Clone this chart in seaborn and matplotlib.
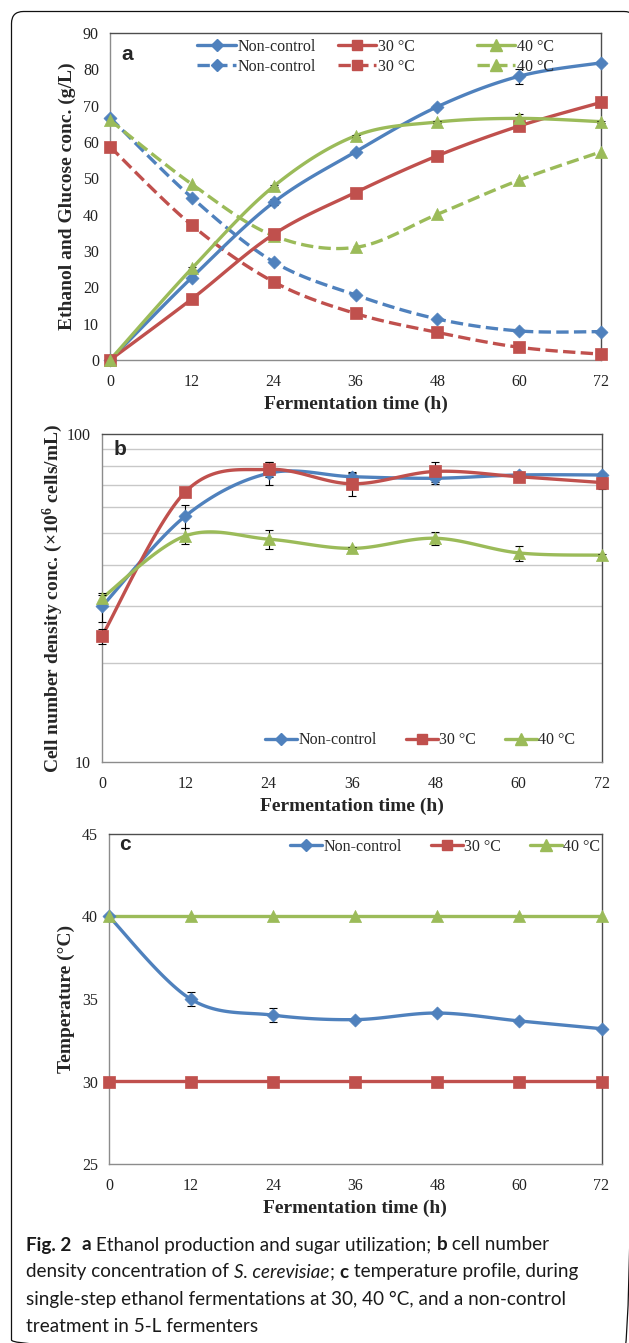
import numpy as np
import pandas as pd
import matplotlib
matplotlib.use("Agg")
import matplotlib.pyplot as plt
import seaborn as sns
from matplotlib.lines import Line2D
from matplotlib.patches import FancyBboxPatch

# ---------------- data ----------------
time_h = [0, 12, 24, 36, 48, 60, 72]
series_names = ["Non-control", "30 °C", "40 °C"]

# panel a: ethanol (solid) and glucose (dashed), g/L
ethanol_noncontrol = [0.0, 22.7, 43.4, 57.3, 69.7, 78.1, 81.8]
ethanol_30 = [0.0, 16.8, 34.6, 46.1, 56.2, 64.4, 70.9]
ethanol_40 = [0.0, 25.2, 47.8, 61.7, 65.5, 66.5, 65.6]
ethanol_noncontrol_err = [0, 0.5, 0.8, 0.5, 0.5, 2.0, 0.5]
ethanol_30_err = [0, 0.3, 0.3, 0.3, 0.3, 0.3, 0.3]
ethanol_40_err = [0, 0.3, 0.3, 0.3, 0.3, 1.2, 0.3]
glucose_noncontrol = [66.7, 44.7, 27.0, 17.9, 11.3, 8.0, 7.8]
glucose_30 = [58.7, 37.1, 21.5, 12.8, 7.6, 3.5, 1.6]
glucose_40 = [66.0, 48.4, 34.2, 31.0, 40.1, 49.5, 57.3]

# panel b: cell number density (x10^6 cells/mL)
cells_noncontrol = [29.8, 56.2, 75.9, 74.1, 73.3, 75.0, 75.0]
cells_30 = [24.2, 66.6, 78.0, 70.5, 76.9, 74.1, 71.1]
cells_40 = [31.6, 48.9, 47.8, 44.8, 48.1, 43.4, 42.7]
cells_noncontrol_err = [3.0, 4.4, 6.0, 2.0, 3.0, 1.5, 1.0]
cells_30_err = [1.3, 1.0, 4.0, 6.0, 5.5, 2.5, 3.0]
cells_40_err = [0.8, 2.7, 3.3, 0.5, 2.2, 2.3, 0.5]

# panel c: temperature (°C)
temp_noncontrol = [40.0, 34.98, 34.02, 33.75, 34.15, 33.67, 33.2]
temp_30 = [30, 30, 30, 30, 30, 30, 30]
temp_40 = [40, 40, 40, 40, 40, 40, 40]
temp_noncontrol_err = [0.0, 0.42, 0.42, 0.1, 0.1, 0.1, 0.1]

x_ticks = [0, 12, 24, 36, 48, 60, 72]
a_yticks = [0, 10, 20, 30, 40, 50, 60, 70, 80, 90]
b_yticks = [10, 100]
b_minor = [20, 30, 40, 50, 60, 70, 80, 90]
c_yticks = [25, 30, 35, 40, 45]

colors = ["#4F81BD", "#C0504D", "#9BBB59"]
markers = ["D", "s", "^"]
msizes = [44, 66, 76]

# ---------------- style ----------------
sns.set_style("white")
plt.rcParams["font.family"] = ["Liberation Serif", "DejaVu Serif"]
plt.rcParams["mathtext.fontset"] = "custom"
plt.rcParams["mathtext.rm"] = "Liberation Serif"
plt.rcParams["mathtext.bf"] = "Liberation Serif:bold"
plt.rcParams["path.simplify"] = False

W, H = 629, 1343
fig = plt.figure(figsize=(W / 100, H / 100), dpi=100)


def rect(l, r, t, b):
    return [l / W, 1 - b / H, (r - l) / W, (b - t) / H]


def smooth(xv, yv, logy=False, n=30):
    x = np.asarray(xv, float)
    y = np.asarray(yv, float)
    if logy:
        y = np.log10(y)
    P = np.column_stack([x, y])
    Pp = np.vstack([P[0], P, P[-1]])
    out = []
    for i in range(len(P) - 1):
        p0, p1, p2, p3 = Pp[i], Pp[i + 1], Pp[i + 2], Pp[i + 3]
        c1 = p1 + (p2 - p0) / 6.0
        c2 = p2 - (p3 - p1) / 6.0
        t = np.linspace(0, 1, n, endpoint=(i == len(P) - 2))[:, None]
        seg = ((1 - t) ** 3) * p1 + 3 * ((1 - t) ** 2) * t * c1 + 3 * (1 - t) * t ** 2 * c2 + t ** 3 * p2
        out.append(seg)
    S = np.round(np.vstack(out), 9)
    if logy:
        S[:, 1] = 10 ** S[:, 1]
    return S[:, 0], S[:, 1]


def draw_series(ax, y, err, k, dashed=False, logy=False, z=3):
    sx, sy = smooth(time_h, y, logy=logy)
    sns.lineplot(x=sx, y=sy, ax=ax, color=colors[k], lw=2.4, sort=False,
                 estimator=None, linestyle="--" if dashed else "-", zorder=z,
                 legend=False, snap=False, solid_joinstyle="round",
                 solid_capstyle="round")
    if err is not None:
        ax.errorbar(time_h, y, yerr=err, fmt="none", ecolor="black",
                    elinewidth=0.8, capsize=3, capthick=0.8, zorder=z + 1,
                    clip_on=False)
    sns.scatterplot(x=time_h, y=y, ax=ax, color=colors[k], marker=markers[k],
                    s=msizes[k], edgecolor=colors[k], linewidth=0.5,
                    zorder=z + 2, clip_on=False, legend=False)


def style_axes(ax):
    for side in ["left", "bottom"]:
        ax.spines[side].set_color("#8c8c8c")
        ax.spines[side].set_linewidth(1.0)
    for side in ["top", "right"]:
        ax.spines[side].set_color("#4d4d4d")
        ax.spines[side].set_linewidth(1.0)
        ax.spines[side].set_visible(True)
    ax.tick_params(axis="both", which="major", direction="out", length=4,
                   width=0.8, color="#8c8c8c", labelsize=11.5,
                   labelcolor="#222222", pad=4)
    ax.tick_params(axis="x", which="major", pad=6)
    ax.set_xlim(0, 72)
    ax.set_xticks(x_ticks)
    ax.set_xticklabels([str(v) for v in x_ticks])
    ax.set_xlabel("Fermentation time (h)", fontsize=14, fontweight="bold",
                  labelpad=4)
    ax.grid(False)


def handle(k, dashed=False):
    return Line2D([0], [0], color=colors[k], lw=2.4,
                  linestyle="--" if dashed else "-", marker=markers[k],
                  markersize=[6.5, 7.5, 8][k], markeredgecolor=colors[k])


leg_kw = dict(frameon=False, fontsize=11.5, handletextpad=0.1,
              borderpad=0, borderaxespad=0)

# ---------------- panel a ----------------
axa = fig.add_axes(rect(110, 601, 33, 360))
draw_series(axa, glucose_noncontrol, None, 0, dashed=True)
draw_series(axa, glucose_30, None, 1, dashed=True)
draw_series(axa, glucose_40, None, 2, dashed=True)
draw_series(axa, ethanol_noncontrol, ethanol_noncontrol_err, 0)
draw_series(axa, ethanol_30, ethanol_30_err, 1)
draw_series(axa, ethanol_40, ethanol_40_err, 2)
style_axes(axa)
axa.set_ylim(0, 90)
axa.set_yticks(a_yticks)
axa.set_yticklabels([str(v) for v in a_yticks])
axa.set_ylabel("Ethanol and Glucose conc. (g/L)", fontsize=14,
               fontweight="bold", labelpad=5)
axa.text(0.035, 0.935, "a", transform=axa.transAxes, fontsize=15,
         fontweight="bold", family="Liberation Sans", ha="center", va="center")
col_x = [0.178, 0.464, 0.747]
for k in range(3):
    lg = axa.legend([handle(k), handle(k, True)],
                    [series_names[k], series_names[k]],
                    loc="upper left", bbox_to_anchor=(col_x[k], 0.982),
                    handlelength=2.4, labelspacing=0.25, **leg_kw)
    if k < 2:
        axa.add_artist(lg)

# ---------------- panel b ----------------
axb = fig.add_axes(rect(102, 602, 434, 762))
axb.set_yscale("log")
draw_series(axb, cells_noncontrol, cells_noncontrol_err, 0, logy=True)
draw_series(axb, cells_30, cells_30_err, 1, logy=True)
draw_series(axb, cells_40, cells_40_err, 2, logy=True)
style_axes(axb)
axb.set_ylim(10, 100)
axb.set_yticks(b_yticks)
axb.set_yticklabels([str(v) for v in b_yticks])
axb.set_yticks(b_minor, minor=True)
axb.set_yticklabels([], minor=True)
axb.tick_params(axis="y", which="minor", direction="out", length=4,
                width=0.8, color="#8c8c8c")
axb.tick_params(axis="x", which="minor", length=0)
for v in b_minor:
    axb.axhline(v, color="#c8c8c8", lw=1.0, zorder=1)
axb.set_ylabel("Cell number density conc. (×10$\\mathbf{^6}$ cells/mL)",
               fontsize=14, fontweight="bold", labelpad=1)
axb.text(0.037, 0.954, "b", transform=axb.transAxes, fontsize=15,
         fontweight="bold", family="Liberation Sans", ha="center", va="center")
axb.legend([handle(k) for k in range(3)], series_names, loc="center left",
           bbox_to_anchor=(0.326, 0.066), ncol=3, handlelength=2.0,
           columnspacing=1.8, **leg_kw)

# ---------------- panel c ----------------
axc = fig.add_axes(rect(109, 601.5, 834, 1164))
draw_series(axc, temp_noncontrol, temp_noncontrol_err, 0)
draw_series(axc, temp_30, None, 1)
draw_series(axc, temp_40, None, 2)
style_axes(axc)
axc.set_ylim(25, 45)
axc.set_yticks(c_yticks)
axc.set_yticklabels([str(v) for v in c_yticks])
axc.set_ylabel("Temperature (°C)", fontsize=14, fontweight="bold",
               labelpad=5)
axc.text(0.0315, 0.9676, "c", transform=axc.transAxes, fontsize=15,
         fontweight="bold", family="Liberation Sans", ha="center", va="center")
axc.legend([handle(k) for k in range(3)], series_names, loc="center left",
           bbox_to_anchor=(0.3675, 0.9606), ncol=3, handlelength=2.0,
           columnspacing=1.8, **leg_kw)

# ---------------- frame and caption ----------------
bg = fig.add_axes([0, 0, 1, 1], zorder=-5)
bg.set_xlim(0, W)
bg.set_ylim(H, 0)
bg.axis("off")
bg.add_patch(FancyBboxPatch((11.5, 11.5), 636 - 11.5, 1352 - 11.5,
                            boxstyle="round,pad=0,rounding_size=12",
                            fc="none", ec="#111111", lw=0.9))

cap = fig.add_axes([0, 0, 1, 1], zorder=5)
cap.set_xlim(0, W)
cap.set_ylim(H, 0)
cap.axis("off")

cap_lines = [
    [("Fig. 2", "bold", "normal"), ("  ", "normal", "normal"),
     ("a", "bold", "normal"),
     (" Ethanol production and sugar utilization; ", "normal", "normal"),
     ("b", "bold", "normal"), (" cell number", "normal", "normal")],
    [("density concentration of ", "normal", "normal"),
     ("S. cerevisiae", "normal", "italic"), ("; ", "normal", "normal"),
     ("c", "bold", "normal"),
     (" temperature profile, during", "normal", "normal")],
    [("single-step ethanol fermentations at 30, 40 °C, and a non-control",
      "normal", "normal")],
    [("treatment in 5-L fermenters", "normal", "normal")],
]
cap_y = [1245, 1272, 1299, 1326]
cap_fs = 13.6
for yy, parts in zip(cap_y, cap_lines):
    prev = None
    for s, wgt, sty in parts:
        kw = dict(fontsize=cap_fs, fontweight=wgt, fontstyle=sty,
                  family="Lato", color="#1a1a1a")
        if prev is None:
            prev = cap.text(26.5, yy, s, ha="left", va="center", **kw)
        else:
            prev = cap.annotate(s, xy=(1, 0), xycoords=prev, ha="left",
                                va="bottom", annotation_clip=False, **kw)

fig.savefig("out.png", dpi=100)
